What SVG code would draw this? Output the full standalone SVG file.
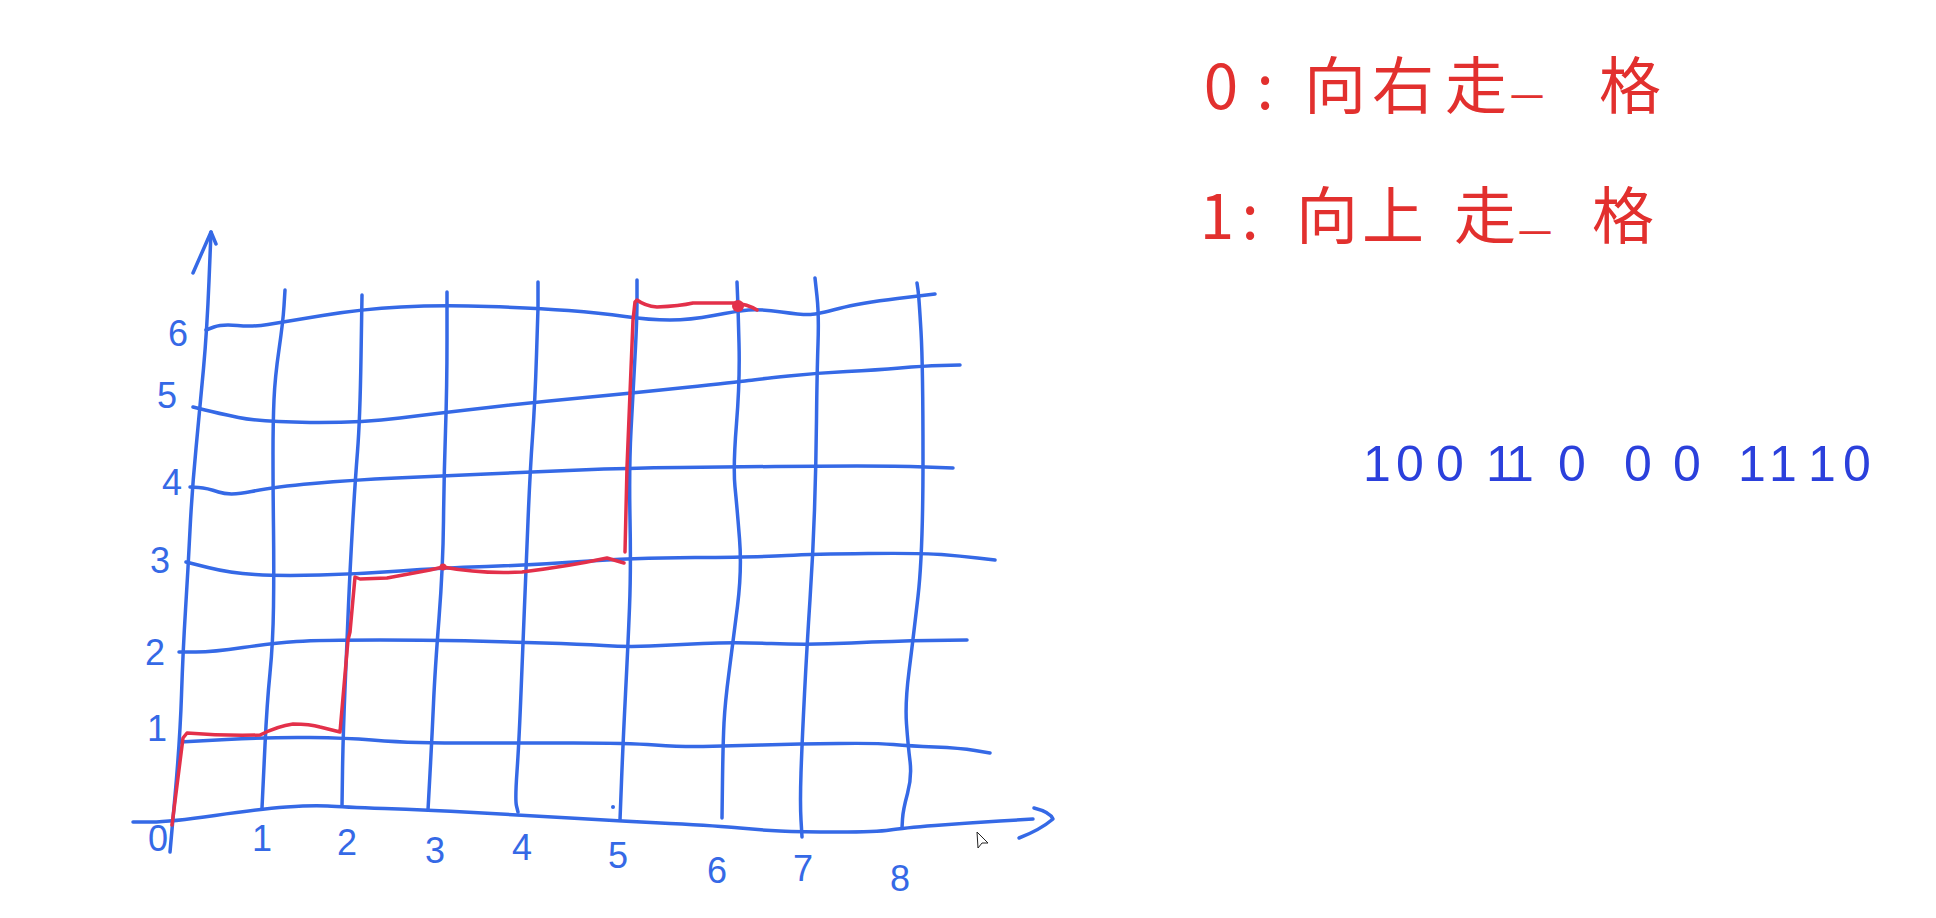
<svg xmlns="http://www.w3.org/2000/svg" width="1936" height="918" viewBox="0 0 1936 918">
<style>
.g{fill:none;stroke:#3569e6;stroke-width:3.5;stroke-linecap:round;stroke-linejoin:round}
.r{fill:none;stroke:#e3304a;stroke-width:3.5;stroke-linecap:round;stroke-linejoin:round}
.lb{font-family:"Liberation Sans","Noto Sans",sans-serif;font-size:36px;fill:#3569e6;text-anchor:middle}
.lg{font-family:"Noto Sans CJK SC","Liberation Sans",sans-serif;font-size:62px;fill:#e2302e;text-anchor:middle}
.dash{font-size:34px}
.bn{font-family:"Liberation Sans","Noto Sans",sans-serif;font-size:50px;fill:#2b40dc;text-anchor:middle}
</style>
<rect width="1936" height="918" fill="#ffffff"/>
<g id="axes">
<path class="g" d="M170,852 L175,796 Q180,740 181.5,695 Q183,650 185.5,610 Q188,570 190,530 Q192,490 196,448.5 Q200,407 203.5,368.5 Q207,330 209,281 L211,232"/>
<path class="g" d="M193,273 L211,232 L216,244"/>
<path class="g" d="M133,822 L151.5,822 Q170,822 215,815.5 Q260,809 286.5,807 Q313,805 327.5,806 Q342,807 384.5,808.5 Q427,810 473.5,812.5 Q520,815 570,818 Q620,821 670,823.5 Q720,826 740,828 Q760,830 780,831 Q800,832 838.5,832 Q877,832 890,830 Q903,828 935,825.5 Q967,823 1000,821 L1033,819"/>
<path class="g" d="M1034,808 Q1050,812 1053,819 Q1040,830 1019,838"/>
</g>
<g id="grid-horizontal">
<path class="g" d="M206,330 L214,327 Q222,324 237.5,325.5 Q253,327 268,324.5 Q283,322 322.5,315.5 Q362,309 401,307 Q440,305 488.5,306.5 Q537,308 568.5,310.5 Q600,313 625,316.5 Q650,320 670,320 Q690,320 713.5,315.5 Q737,311 748.5,310 Q760,309 781.5,312 Q803,315 810.5,314.5 Q818,314 839,308.5 Q860,303 897.5,298.5 L935,294"/>
<path class="g" d="M193,407 L205,410 Q217,413 238.5,417.5 Q260,422 310,422.5 Q360,423 400,418 Q440,413 488.5,407.5 Q537,402 585,397.5 Q633,393 685,387.5 Q737,382 748.5,380.5 Q760,379 788.5,376 Q817,373 847,371.5 Q877,370 900,368 Q923,366 941.5,365.5 L960,365"/>
<path class="g" d="M190,487 L198.5,487.5 Q207,488 218.5,492 Q230,496 251.5,491.5 Q273,487 313,483.5 Q353,480 396.5,478 Q440,476 486.5,474 Q533,472 580,470 Q627,468 680,467.5 Q733,467 775,466.5 Q817,466 857,466 Q897,466 925,467 L953,468"/>
<path class="g" d="M186,562 L208,567.5 Q230,573 255,574.5 Q280,576 320,575 Q360,574 400,571 Q440,568 486.5,566.5 Q533,565 581.5,561.5 Q630,558 695,557.5 Q760,557 786.5,555.5 Q813,554 868,553.5 Q923,553 941.5,554.5 Q960,556 977.5,558 L995,560"/>
<path class="g" d="M179,652 L196,652 Q213,652 243,647.5 Q273,643 296.5,641.5 Q320,640 380,640 Q440,640 473.5,641 Q507,642 543.5,643 Q580,644 603.5,645.5 Q627,647 650,646 Q673,645 703,643.5 Q733,642 771.5,643.5 Q810,645 851.5,643 Q893,641 930,640.5 L967,640"/>
<path class="g" d="M180,742 L226.5,739.5 Q273,737 310,737.5 Q347,738 372,740 Q397,742 418.5,742.5 Q440,743 480,743 Q520,743 573.5,743 Q627,743 655,745 Q683,747 703,746.5 Q723,746 761.5,745 Q800,744 838.5,743.5 Q877,743 893.5,744.5 Q910,746 935,747 Q960,748 975,750.5 L990,753"/>
</g>
<g id="grid-vertical">
<path class="g" d="M285,290 L284,306 Q283,322 279,349.5 Q275,377 274,399.5 Q273,422 273,454.5 Q273,487 273.5,528.5 Q274,570 273.5,606.5 Q273,643 270,673 Q267,703 265,745 Q263,787 262.5,797.5 L262,808"/>
<path class="g" d="M362,295 L361,357.5 Q360,420 357.5,451.5 Q355,483 352.5,526.5 Q350,570 348.5,605 Q347,640 345,688.5 Q343,737 342.5,771.5 L342,806"/>
<path class="g" d="M447,292 L447,339.5 Q447,387 445.5,431 Q444,475 443.5,521 Q443,567 439,618.5 Q435,670 433.5,703.5 Q432,737 430,773.5 L428,810"/>
<path class="g" d="M538,282 L538,308 L536.5,355 Q535,402 532.5,437 Q530,472 528,521 Q526,570 524.5,606 Q523,642 521,692.5 Q519,743 517,771.5 Q515,800 516.5,806 L518,812"/>
<path class="g" d="M637,280 L637,300 Q637,320 635,356.5 Q633,393 631,430.5 Q629,468 630,519 Q631,570 629.5,607.5 Q628,645 625.5,694 Q623,743 621.5,781.5 L620,820"/>
<circle cx="613" cy="807" r="2" fill="#3569e6"/>
<path class="g" d="M737,282 L738,307 L739,343.5 Q740,380 736.5,423.5 Q733,467 735,487 Q737,507 739.5,538.5 Q742,570 737.5,606 Q733,642 729,672.5 Q725,703 724,723 Q723,743 722.5,780 L722,818"/>
<path class="g" d="M815,278 L817,296.5 Q819,315 818,344 Q817,373 816.5,419.5 Q816,466 814.5,510 Q813,554 810,599.5 Q807,645 804.5,694 Q802,743 801,773 Q800,803 801,820 L802,837"/>
<path class="g" d="M917,283 L918,290 Q919,297 921,331.5 Q923,366 923,459.5 Q923,553 918,596.5 Q913,640 909,671.5 Q905,703 906.5,724 Q908,745 910,761 Q912,777 907.5,793.5 Q903,810 902.5,819 L902,828"/>
</g>
<g id="red-path">
<path class="r" d="M172,825 L183,738 187,733 Q225,736 260,735 Q278,726 293,724 Q310,724 320,727 L340,732 348,640 350,632 355,577 360,579 387,578 430,570 443,567 Q480,574 522,572 Q570,566 607,558 L624,563"/>
<path class="r" d="M625,552 L627,467 630,393 633,320 635,302 637,300 Q645,306 657,307 Q680,306 693,303 L733,303 Q748,304 757,310"/>
<circle cx="738" cy="306" r="6" fill="#e3304a"/>
<circle cx="443" cy="567" r="3.5" fill="#e3304a"/>
</g>
<g id="y-labels">
<text class="lb" x="178" y="346">6</text>
<text class="lb" x="167" y="408">5</text>
<text class="lb" x="172" y="495">4</text>
<text class="lb" x="160" y="573">3</text>
<text class="lb" x="155" y="665">2</text>
<text class="lb" x="157" y="741">1</text>
</g>
<g id="x-labels">
<text class="lb" x="158" y="851">0</text>
<text class="lb" x="262" y="851">1</text>
<text class="lb" x="347" y="855">2</text>
<text class="lb" x="435" y="863">3</text>
<text class="lb" x="522" y="860">4</text>
<text class="lb" x="618" y="868">5</text>
<text class="lb" x="717" y="883">6</text>
<text class="lb" x="803" y="881">7</text>
<text class="lb" x="900" y="891">8</text>
</g>
<g id="legend">
<text class="lg" y="109"><tspan x="1221 1265 1335 1403 1476">0:向右走</tspan><tspan class="dash" x="1527" y="110">一</tspan><tspan x="1630" y="109">格</tspan></text>
<text class="lg" y="239"><tspan x="1217 1250 1327 1393 1485">1:向上走</tspan><tspan class="dash" x="1535" y="246">一</tspan><tspan x="1623" y="239">格</tspan></text>
</g>
<g id="binary">
<text class="bn" x="1377 1410 1450 1500 1520 1572 1638 1687 1752 1783 1822 1857" y="481">100110001110</text>
</g>
<g id="cursor">
<path d="M977,832 L978,848 L982,843 L988,843 Z" fill="#ffffff" stroke="#222222" stroke-width="1"/>
</g>
</svg>
